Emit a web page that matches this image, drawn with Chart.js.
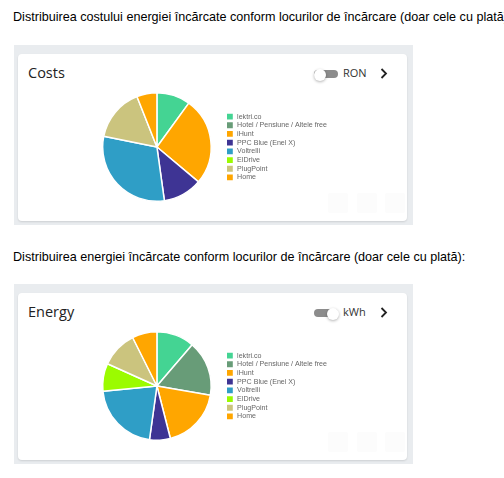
<!DOCTYPE html>
<html>
<head>
<meta charset="utf-8">
<script src="https://cdn.jsdelivr.net/npm/chart.js@4/dist/chart.umd.min.js"></script>
<style>
  html, body { margin:0; padding:0; background:#fff; width:504px; height:478px; overflow:hidden; }
  .abs { position:absolute; }
  .heading { font-family:"Liberation Sans", Arial, sans-serif; font-size:12.6px; color:#000; white-space:nowrap; line-height:14px; }
  .grey { background:#e9ecef; }
  .card { background:#fff; border-radius:4px; box-shadow:0 1px 2px rgba(0,0,0,0.12); }
  .title { font-family:"Open Sans", sans-serif; font-size:14.5px; color:#222; line-height:18px; }
  .unit { font-family:"Open Sans", sans-serif; font-size:11px; color:#333; line-height:14px; }
  .track { background:#8c8c8c; border-radius:4px; }
  .knob { background:#fff; border-radius:50%; box-shadow:0 1px 3px rgba(0,0,0,0.3); }
  .ghost { background:#fcfcfc; border-radius:2px; }
</style>
</head>
<body>
<script>
// ---- data ----
const locations = ["lektri.co", "Hotel / Pensiune / Altele free", "iHunt", "PPC Blue (Enel X)", "Voltrelli", "ElDrive", "PlugPoint", "Home"];
const sliceColors = ["#44d493", "#689c78", "#ffa600", "#3e3494", "#2f9ec6", "#9bfb00", "#cbc47e", "#ffa600"];
const costValues = [10.0, 0, 26.1, 11.7, 30.4, 0, 15.8, 6.0];
const energyValues = [11.3, 16.5, 18.3, 6.2, 21.3, 8.3, 10.9, 7.4];
const headings = [
  "Distribuirea costului energiei încărcate conform locurilor de încărcare (doar cele cu plată):",
  "Distribuirea energiei încărcate conform locurilor de încărcare (doar cele cu plată):"
];
const cardTitles = ["Costs", "Energy"];
const unitLabels = ["RON", "kWh"];
const toggleOn = [false, true];
const seriesValues = [costValues, energyValues];

// ---- layout ----
function el(tag, cls, style, text) {
  const e = document.createElement(tag);
  if (cls) e.className = cls;
  Object.assign(e.style, style);
  if (text !== undefined) e.textContent = text;
  document.body.appendChild(e);
  return e;
}
const px = v => v + "px";

for (let i = 0; i < 2; i++) {
  const dy = i * 239;
  const hy = i === 0 ? 10 : 250;
  el("div", "abs heading", {left: px(13), top: px(hy)}, headings[i]);
  el("div", "abs grey", {left: px(14), top: px(45 + dy), width: px(399), height: px(180)});
  el("div", "abs card", {left: px(18), top: px(54 + dy), width: px(389), height: px(167)});
  el("div", "abs title", {left: px(28), top: px(64 + dy)}, cardTitles[i]);
  el("div", "abs track", {left: px(314), top: px(70 + dy), width: px(24), height: px(7.5)});
  el("div", "abs knob", {left: px(toggleOn[i] ? 327 : 314), top: px(68.5 + dy), width: px(12), height: px(12)});
  el("div", "abs unit", {left: px(343), top: px(66 + dy)}, unitLabels[i]);
  const svgNS = "http://www.w3.org/2000/svg";
  const svg = document.createElementNS(svgNS, "svg");
  svg.setAttribute("width", "12"); svg.setAttribute("height", "14");
  Object.assign(svg.style, {position:"absolute", left: px(378), top: px(66 + dy)});
  const pl = document.createElementNS(svgNS, "polyline");
  pl.setAttribute("points", "3.5,3 8,7.5 3.5,12");
  pl.setAttribute("fill", "none"); pl.setAttribute("stroke", "#222"); pl.setAttribute("stroke-width", "1.8");
  svg.appendChild(pl); document.body.appendChild(svg);
  [328, 357, 385].forEach(x => el("div", "abs ghost", {left: px(x), top: px(193 + dy), width: px(20), height: px(20)}));

  const cv = el("canvas", "abs", {left: px(89), top: px(92 + dy)});
  cv.width = 248; cv.height = 110;
  new Chart(cv, {
    type: "pie",
    data: {
      labels: locations,
      datasets: [{
        data: seriesValues[i],
        backgroundColor: sliceColors,
        borderColor: "#fff",
        borderWidth: 1.5
      }]
    },
    options: {
      responsive: false,
      animation: false,
      layout: { padding: 0 },
      plugins: {
        tooltip: { enabled: false },
        legend: {
          position: "right",
          labels: {
            boxWidth: 7.3,
            boxHeight: 7.3,
            padding: 1.4,
            color: "#666",
            font: { family: "Liberation Sans", size: 7.1 }
          }
        }
      }
    }
  });
}
</script>
</body>
</html>
